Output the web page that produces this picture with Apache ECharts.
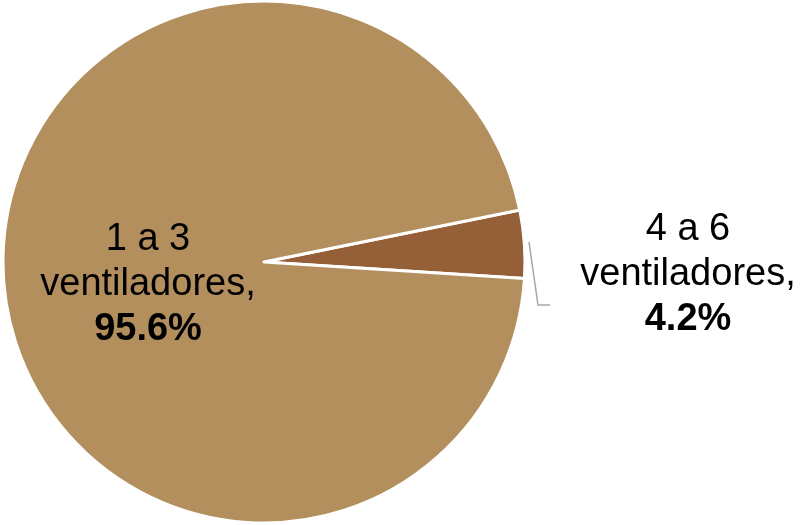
<!DOCTYPE html>
<html>
<head>
<meta charset="utf-8">
<script src="https://cdn.jsdelivr.net/npm/echarts@6/dist/echarts.min.js"></script>
<style>html,body{margin:0;padding:0;background:#fff}#c{width:801px;height:525px}</style>
</head>
<body>
<div id="c"></div>
<script>
var categories = ['4 a 6 ventiladores', '1 a 3 ventiladores'];
var values = [4.2, 95.6];
var colors = ['#955F37', '#B38F5E'];

var chart = echarts.init(document.getElementById('c'));
var data = categories.map(function (n, i) {
  return { name: n, value: values[i], itemStyle: { color: colors[i] } };
});
data[0].label = { position: 'outside' };
data[1].label = { position: 'inside' };
data[1].labelLine = { show: false };

chart.setOption({
  animation: false,
  series: [{
    type: 'pie',
    center: [264, 262],
    radius: [0, 261],
    startAngle: 11.5,
    clockwise: true,
    data: data,
    itemStyle: { borderColor: '#fff', borderWidth: 3 },
    label: {
      fontFamily: 'Liberation Sans, Arial, sans-serif',
      fontSize: 38,
      lineHeight: 45,
      color: '#000',
      align: 'center',
      formatter: function (p) {
        return p.name.replace(' ventiladores', '\nventiladores') + ',\n{p|' + p.value.toFixed(1) + '%}';
      },
      rich: { p: { fontWeight: 'bold', fontSize: 38, lineHeight: 45, fontFamily: 'Liberation Sans, Arial, sans-serif' } }
    },
    labelLine: { show: true, length: 10, length2: 10, lineStyle: { color: '#A6A6A6', width: 1.5 } },
    labelLayout: function (p) {
      if (p.dataIndex === 0) {
        return {
          x: 688, y: 275, align: 'center', verticalAlign: 'middle',
          labelLinePoints: [[529, 242], [538, 305], [550, 305]]
        };
      }
      return { x: 148, y: 285, align: 'center', verticalAlign: 'middle' };
    }
  }]
});
</script>
</body>
</html>
